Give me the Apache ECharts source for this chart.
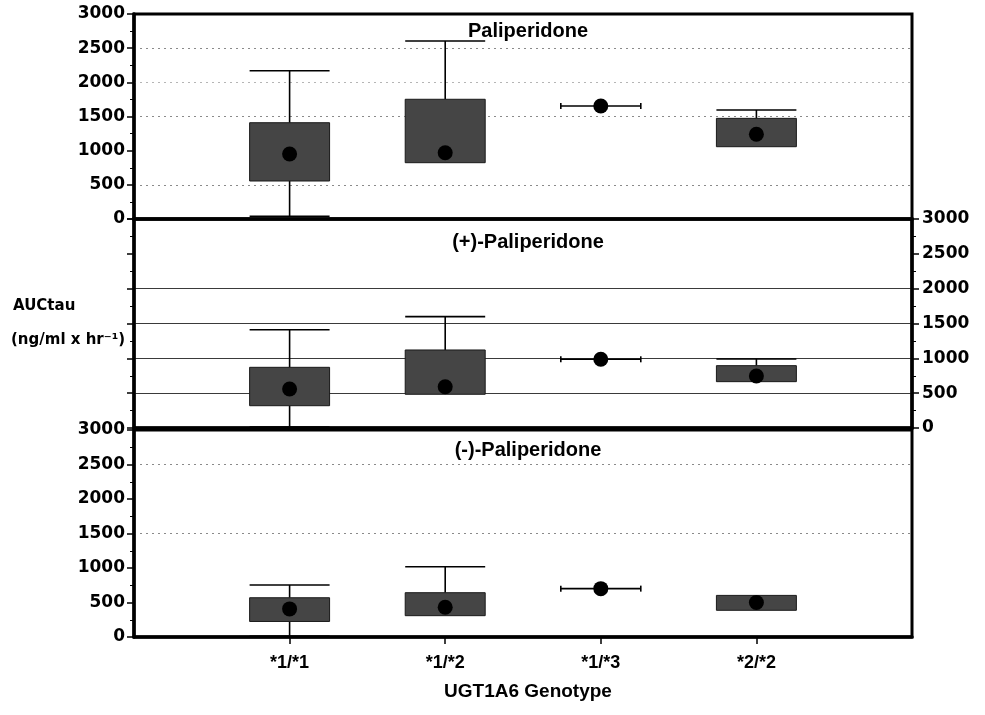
<!DOCTYPE html>
<html>
<head>
<meta charset="utf-8">
<script src="https://cdn.jsdelivr.net/npm/echarts@6/dist/echarts.min.js"></script>
<style>html,body{margin:0;padding:0;background:#fff}#c{width:985px;height:715px}</style>
</head>
<body>
<div id="c"></div>
<script>
// ---- data ----
const categories = ['*1/*1', '*1/*2', '*1/*3', '*2/*2'];
const panelTitles = ['Paliperidone', '(+)-Paliperidone', '(-)-Paliperidone'];
const xTitle = 'UGT1A6 Genotype';
const yTitleLine1 = 'AUCtau';
const yTitleLine2 = '(ng/ml x hr⁻¹)';
const yMin = 0, yMax = 3000, yStep = 500;

// Paliperidone
const palMin  = [40, 824, 1654, 1058];
const palQ1   = [556, 824, 1654, 1058];
const palQ3   = [1409, 1752, 1654, 1473];
const palMax  = [2170, 2605, 1654, 1595];
const palMean = [951, 970, 1654, 1240];
// (+)-Paliperidone
const plusMin  = [15, 484, 986, 665];
const plusQ1   = [320, 484, 986, 665];
const plusQ3   = [871, 1120, 986, 895];
const plusMax  = [1411, 1598, 986, 990];
const plusMean = [560, 593, 986, 746];
// (-)-Paliperidone
const minusMin  = [10, 309, 701, 387];
const minusQ1   = [225, 309, 701, 387];
const minusQ3   = [569, 642, 701, 603];
const minusMax  = [754, 1019, 701, 603];
const minusMean = [407, 431, 701, 500];

// ---- chart ----
const axisCats = [''].concat(categories, ['']);
const numFont = 'DejaVu Sans';
const txtFont = 'Liberation Sans, Arial';

const panels = [
  {min: palMin, q1: palQ1, q3: palQ3, max: palMax, mean: palMean},
  {min: plusMin, q1: plusQ1, q3: plusQ3, max: plusMax, mean: plusMean},
  {min: minusMin, q1: minusQ1, q3: minusQ3, max: minusMax, mean: minusMean}
];

const grids = [
  {left: 134, right: 73, top: 14, height: 205},
  {left: 134, right: 73, top: 219, height: 209},
  {left: 134, right: 73, top: 430, height: 207}
].map(g => Object.assign(g, {show: true, borderColor: '#000', borderWidth: 3, containLabel: false}));

// split line colours per tick (0,500,...,3000)
const T = 'rgba(0,0,0,0)';
const dotTop = {color: [T, '#8a8a8a', T, '#8a8a8a', '#b5b5b5', '#8a8a8a', T], width: 1, type: [2, 4]};
const solidMid = {color: [T, '#3a3a3a', '#3a3a3a', '#3a3a3a', '#3a3a3a', T, T], width: 1.2, type: 'solid'};
const dotBot = {color: [T, T, T, '#8a8a8a', T, '#8a8a8a', T], width: 1, type: [2, 4]};

function yAx(gi, pos, showLabels, split) {
  return {
    type: 'value', gridIndex: gi, position: pos, min: yMin, max: yMax, interval: yStep,
    axisLine: {show: true, onZero: false, lineStyle: {color: '#000', width: 3.5}},
    axisTick: {show: true, length: 7, lineStyle: {color: '#000', width: 1.5}},
    minorTick: {show: true, splitNumber: 2, length: 4, lineStyle: {color: '#000', width: 1}},
    axisLabel: {show: showLabels, formatter: v => String(v), fontFamily: numFont, fontWeight: 'bold', fontSize: 17, color: '#000', margin: pos === 'left' ? 9 : 10},
    splitLine: split ? {show: true, lineStyle: split} : {show: false}
  };
}

const yAxes = [
  yAx(0, 'left', true, dotTop),
  yAx(1, 'right', true, solidMid),
  yAx(1, 'left', false, null),
  yAx(2, 'left', true, dotBot)
];

const xAxes = [0, 1, 2].map(gi => ({
  type: 'category', gridIndex: gi, data: axisCats, boundaryGap: false,
  axisLine: {show: true, onZero: false, lineStyle: {color: '#000', width: 3.5}},
  axisTick: {show: gi === 2, length: 7, interval: (i) => i >= 1 && i <= axisCats.length - 2, lineStyle: {color: '#000', width: 1.5}},
  axisLabel: {show: gi === 2, fontFamily: txtFont, fontWeight: 'bold', fontSize: 18, color: '#000', margin: 17},
  splitLine: {show: false}
}));

function renderBox(params, api) {
  const x = api.value(0);
  const lo = api.value(1), q1 = api.value(2), q3 = api.value(3), hi = api.value(4);
  const half = api.size([1, 0])[0] * 0.257;
  const pLo = api.coord([x, lo]), pQ1 = api.coord([x, q1]), pQ3 = api.coord([x, q3]), pHi = api.coord([x, hi]);
  const cx = pQ1[0];
  const ls = {stroke: '#000', lineWidth: 1.6};
  const ch = [];
  if (hi > q3) {
    ch.push({type: 'line', shape: {x1: cx, y1: pQ3[1], x2: cx, y2: pHi[1]}, style: ls});
    ch.push({type: 'line', shape: {x1: cx - half, y1: pHi[1], x2: cx + half, y2: pHi[1]}, style: ls});
  }
  if (lo < q1) {
    ch.push({type: 'line', shape: {x1: cx, y1: pQ1[1], x2: cx, y2: pLo[1]}, style: ls});
    ch.push({type: 'line', shape: {x1: cx - half, y1: pLo[1], x2: cx + half, y2: pLo[1]}, style: ls});
  }
  if (q3 > q1) {
    ch.push({type: 'rect', shape: {x: cx - half, y: pQ3[1], width: 2 * half, height: pQ1[1] - pQ3[1]},
      style: {fill: '#454545', stroke: '#1a1a1a', lineWidth: 1}});
  } else {
    ch.push({type: 'line', shape: {x1: cx - half, y1: pQ1[1], x2: cx + half, y2: pQ1[1]}, style: ls});
    ch.push({type: 'line', shape: {x1: cx - half, y1: pQ1[1] - 3, x2: cx - half, y2: pQ1[1] + 3}, style: ls});
    ch.push({type: 'line', shape: {x1: cx + half, y1: pQ1[1] - 3, x2: cx + half, y2: pQ1[1] + 3}, style: ls});
  }
  return {type: 'group', children: ch};
}

const yIndexFor = [0, 1, 3];
const series = [];
panels.forEach((p, gi) => {
  series.push({
    type: 'custom', xAxisIndex: gi, yAxisIndex: yIndexFor[gi], renderItem: renderBox, clip: false,
    encode: {x: 0, y: [1, 2, 3, 4]},
    data: categories.map((c, i) => [c, p.min[i], p.q1[i], p.q3[i], p.max[i]]),
    z: 3
  });
  series.push({
    type: 'scatter', xAxisIndex: gi, yAxisIndex: yIndexFor[gi], symbol: 'circle', symbolSize: 15,
    itemStyle: {color: '#000', opacity: 1},
    data: categories.map((c, i) => [c, p.mean[i]]),
    z: 4
  });
});

const titles = panelTitles.map((t, i) => ({
  text: t, left: 523, top: [16, 227, 435][i], textAlign: 'center',
  textStyle: {fontFamily: txtFont, fontWeight: 'bold', fontSize: 20, color: '#000'}
}));
titles.push({
  text: xTitle, left: 523, top: 677, textAlign: 'center',
  textStyle: {fontFamily: txtFont, fontWeight: 'bold', fontSize: 19, color: '#000'}
});

const chart = echarts.init(document.getElementById('c'), null, {renderer: 'canvas'});
chart.setOption({
  animation: false,
  backgroundColor: '#fff',
  title: titles,
  grid: grids,
  xAxis: xAxes,
  yAxis: yAxes,
  series: series,
  graphic: [
    {type: 'text', left: 13, top: 299, style: {text: yTitleLine1, font: 'bold 15px "DejaVu Sans"', fill: '#000'}},
    {type: 'text', left: 11, top: 333, style: {text: yTitleLine2, font: 'bold 15px "DejaVu Sans"', fill: '#000'}}
  ]
});
</script>
</body>
</html>
